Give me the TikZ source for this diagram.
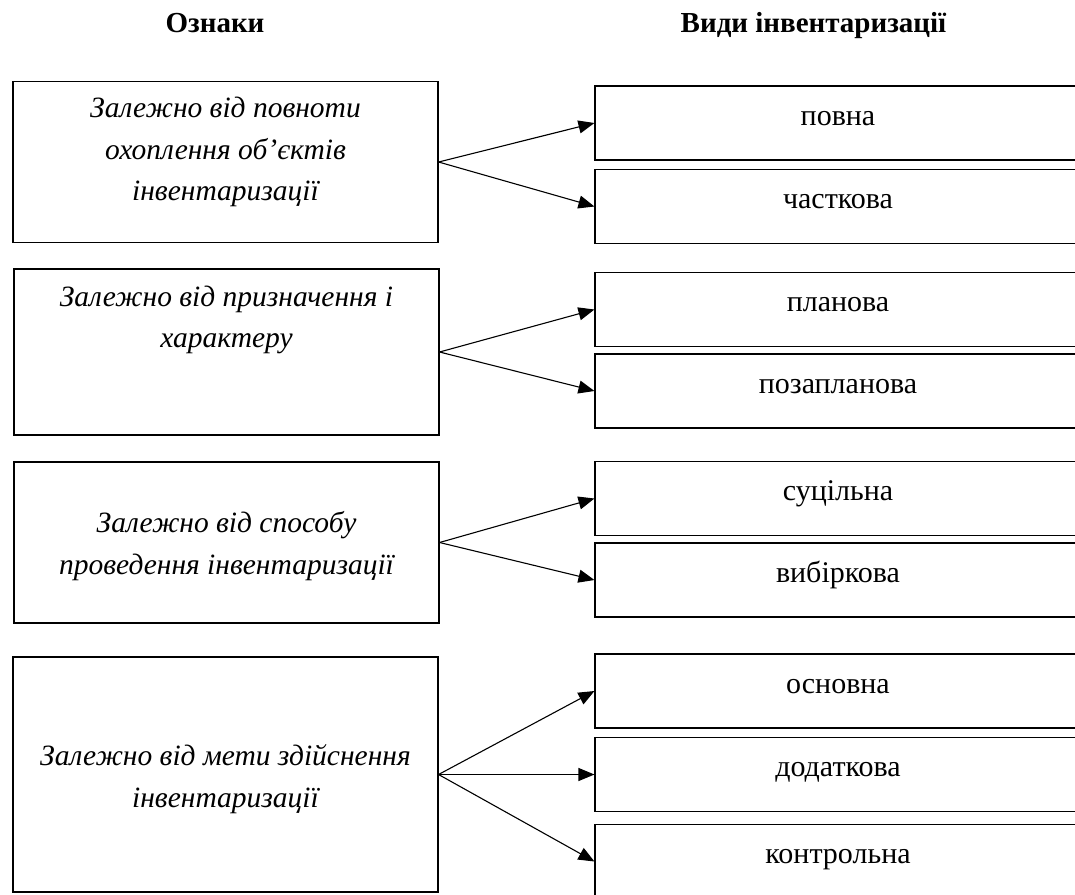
\documentclass[tikz,border=0pt]{standalone}
\usepackage{fontspec}
\setmainfont{Liberation Serif}
\usetikzlibrary{arrows.meta,positioning}

\tikzset{
  signbox/.style={draw,line width=1.1pt,minimum width=425pt,inner sep=0pt},
  kindbox/.style={draw,line width=1.1pt,minimum width=486pt,inner sep=0pt,
    text height=39pt,text depth=35pt,font=\fontsize{30}{34}\selectfont},
  signtext/.style={align=center,font=\fontsize{29.5}{41.5}\selectfont\itshape},
  head/.style={anchor=base,font=\fontsize{29}{34}\selectfont\bfseries},
  arr/.style={line width=1.1pt,-{Triangle[length=16pt,width=13pt]}}
}

\begin{document}
\begin{tikzpicture}[x=1pt,y=-1pt]
\useasboundingbox (0,0) rectangle (1075,894);
\clip (0,0) rectangle (1075,894);
% headings
\node[head] (hsign) at (215,32) {Ознаки};
\node[head] (hkind) at (813.5,32) {Види інвентаризації};
% left column: ознаки
\node[signbox,minimum height=161pt] (sign1) at (225.5,162) {};
\node[signtext] (t1) at (225.5,152) {Залежно від повноти\\ охоплення об’єктів\\ інвентаризації};
\node[signbox,minimum height=166pt] (sign2) at (226.5,352) {};
\node[signtext] (t2) at (226.5,320) {Залежно від призначення і\\ характеру};
\node[signbox,minimum height=161pt] (sign3) at (226.5,542.5) {};
\node[signtext] (t3) at (226.5,546) {Залежно від способу\\ проведення інвентаризації};
\node[signbox,minimum height=235pt] (sign4) at (225.5,774.5) {};
\node[signtext] (t4) at (225.5,779) {Залежно від мети здійснення\\ інвентаризації};
% right column: види (boxes run past the right edge)
\node[kindbox] (kind1) at (838,123) {повна};
\node[kindbox] (kind2) at (838,206.5) {часткова};
\node[kindbox] (kind3) at (838,309.5) {планова};
\node[kindbox] (kind4) at (838,391) {позапланова};
\node[kindbox] (kind5) at (838,498.5) {суцільна};
\node[kindbox] (kind6) at (838,580) {вибіркова};
\node[kindbox] (kind7) at (838,691) {основна};
\node[kindbox] (kind8) at (838,774.5) {додаткова};
\node[kindbox] (kind9) at (838,861.5) {контрольна};
% arrows
\draw[arr] (sign1.east) -- (kind1.west);
\draw[arr] (sign1.east) -- (kind2.west);
\draw[arr] (sign2.east) -- (kind3.west);
\draw[arr] (sign2.east) -- (kind4.west);
\draw[arr] (sign3.east) -- (kind5.west);
\draw[arr] (sign3.east) -- (kind6.west);
\draw[arr] (sign4.east) -- (kind7.west);
\draw[arr] (sign4.east) -- (kind8.west);
\draw[arr] (sign4.east) -- (kind9.west);
\end{tikzpicture}
\end{document}
